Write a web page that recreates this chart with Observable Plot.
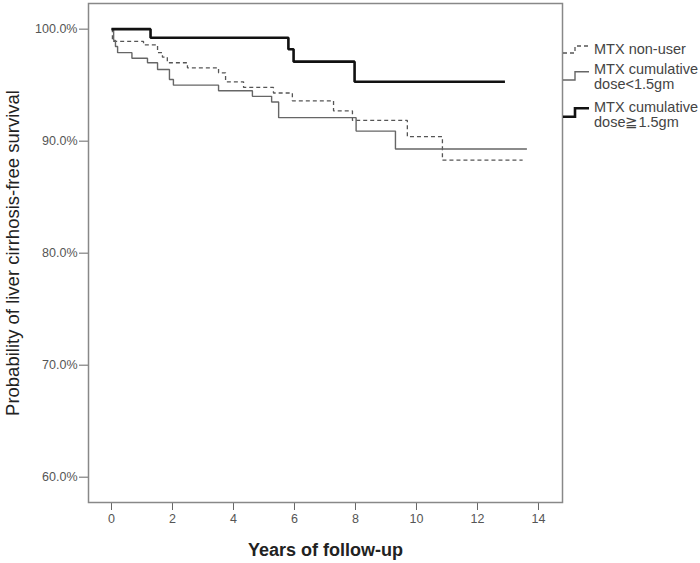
<!DOCTYPE html>
<html>
<head>
<meta charset="utf-8">
<script src="https://cdn.jsdelivr.net/npm/d3@7"></script>
<script src="https://cdn.jsdelivr.net/npm/@observablehq/plot@0.6"></script>
<style>
  html, body { margin: 0; padding: 0; background: #fff; }
  #wrap { position: relative; width: 700px; height: 563px; font-family: "Liberation Sans", Arial, sans-serif; }
  #legend { position: absolute; left: 0; top: 0; pointer-events: none; }
</style>
</head>
<body>
<div id="wrap"></div>
<script>
// ---- Data ----
const groups = ["MTX non-user", "MTX cumulative dose<1.5gm", "MTX cumulative dose≧1.5gm"];

const nonUserYears = [0, 0.03, 1.05, 1.51, 1.67, 1.83, 2.49, 3.51, 3.74, 4.33, 5.31, 5.93, 7.28, 7.90, 9.70, 10.85, 13.48];
const nonUserSurv  = [100, 98.9, 98.6, 97.9, 97.5, 97.0, 96.55, 96.1, 95.3, 94.8, 94.3, 93.6, 92.7, 91.85, 90.4, 88.3, 88.3];

const lowDoseYears = [0, 0.07, 0.13, 0.2, 0.67, 1.18, 1.51, 1.90, 2.03, 3.51, 4.62, 5.25, 5.48, 8.02, 9.31, 13.62];
const lowDoseSurv  = [100, 99.0, 98.45, 97.9, 97.4, 97.0, 96.4, 95.5, 95.0, 94.5, 94.0, 93.5, 92.1, 90.9, 89.3, 89.3];

const highDoseYears = [0, 1.28, 5.8, 5.97, 7.97, 12.9];
const highDoseSurv  = [100, 99.23, 98.2, 97.1, 95.3, 95.3];

const xTicks = [0, 2, 4, 6, 8, 10, 12, 14];
const yTicks = [60, 70, 80, 90, 100];

const styles = {
  "MTX non-user": {stroke: "#555", strokeWidth: 1.3, dash: "4,3"},
  "MTX cumulative dose<1.5gm": {stroke: "#666", strokeWidth: 1.4, dash: null},
  "MTX cumulative dose≧1.5gm": {stroke: "#111", strokeWidth: 2.6, dash: null}
};

function toRows(group, xs, ys) { return xs.map((x, i) => ({group, year: x, surv: ys[i]})); }
const series = [
  toRows(groups[0], nonUserYears, nonUserSurv),
  toRows(groups[1], lowDoseYears, lowDoseSurv),
  toRows(groups[2], highDoseYears, highDoseSurv)
];

const lineMarks = series.map(rows => {
  const s = styles[rows[0].group];
  return Plot.line(rows, {x: "year", y: "surv", curve: "step-after", stroke: s.stroke, strokeWidth: s.strokeWidth, strokeDasharray: s.dash, strokeLinecap: "butt", strokeLinejoin: "miter"});
});

const chart = Plot.plot({
  width: 700,
  height: 563,
  marginLeft: 88,
  marginRight: 138,
  marginTop: 3,
  marginBottom: 61,
  style: {fontFamily: "'Liberation Sans', Arial, sans-serif", background: "#fff"},
  x: {domain: [-0.754, 14.787]},
  y: {domain: [57.74, 102.29]},
  marks: [
    Plot.axisX({ticks: xTicks, tickFormat: d => String(d), tickSize: 8, tickPadding: 4, fontSize: 12.5, stroke: "#666", fill: "#555", label: null}),
    Plot.axisY({ticks: yTicks, tickFormat: d => d.toFixed(1) + "%", tickSize: 9, tickPadding: 2, fontSize: 12.5, stroke: "#666", fill: "#555", label: null}),
    ...lineMarks,
    Plot.frame({stroke: "#888", strokeWidth: 1.5}),
    Plot.text(["Years of follow-up"], {frameAnchor: "bottom", dy: 48, text: d => d, fontSize: 18, fontWeight: "bold", fill: "#222", lineAnchor: "middle"}),
    Plot.text(["Probability of liver cirrhosis-free survival"], {frameAnchor: "left", dx: -75, rotate: -90, text: d => d, fontSize: 18.5, fill: "#222", lineAnchor: "middle", textAnchor: "middle"})
  ]
});

const wrap = document.getElementById("wrap");
wrap.appendChild(chart);

// ---- Legend (overlay in the right margin) ----
const legendEntries = [
  {group: groups[0], lines: ["MTX non-user"], yLow: 53, yHigh: 46, textY: [54]},
  {group: groups[1], lines: ["MTX cumulative", "dose<1.5gm"], yLow: 80, yHigh: 71.7, textY: [74, 88.5]},
  {group: groups[2], lines: ["MTX cumulative", "dose≧1.5gm"], yLow: 116.7, yHigh: 108.3, textY: [112, 126.5]}
];
const svg = d3.select(wrap).append("svg")
  .attr("id", "legend").attr("width", 700).attr("height", 563);
legendEntries.forEach(e => {
  const s = styles[e.group];
  svg.append("path")
    .attr("d", `M563,${e.yLow}H575V${e.yHigh}H589`)
    .attr("fill", "none").attr("stroke", s.stroke).attr("stroke-width", s.strokeWidth)
    .attr("stroke-dasharray", s.dash);
  e.lines.forEach((t, i) => {
    svg.append("text").attr("x", 594).attr("y", e.textY[i])
      .attr("font-family", "'Liberation Sans', Arial, sans-serif").attr("font-size", 14.5)
      .attr("fill", "#444").text(t);
  });
});
</script>
</body>
</html>
